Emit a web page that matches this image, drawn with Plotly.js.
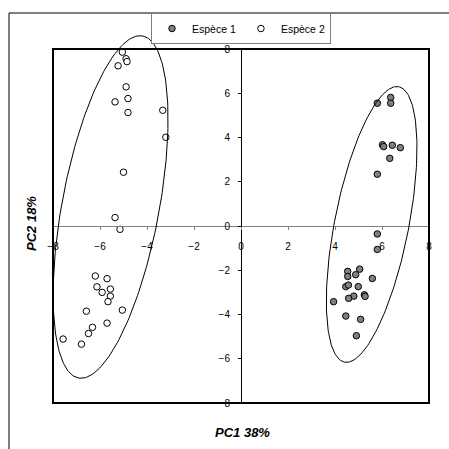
<!DOCTYPE html>
<html>
<head>
<meta charset="utf-8">
<script src="https://cdn.plot.ly/plotly-3.0.1.min.js"></script>
<style>html,body{margin:0;padding:0;background:#fff;}#chart{width:449px;height:449px;}</style>
</head>
<body>
<div id="chart"></div>
<script>
// ---- data ----
var sp1Name = "Espèce 1";
var sp1X = [5.80, 6.37, 6.37, 6.02, 6.07, 6.44, 6.78, 6.33, 5.80, 5.80, 5.80, 5.05, 4.54, 4.88, 4.54, 5.59, 4.46, 4.57, 4.99, 5.25, 5.28, 4.80, 4.58, 3.94, 4.46, 5.09, 4.91];
var sp1Y = [5.55, 5.81, 5.55, 3.67, 3.59, 3.65, 3.54, 3.06, 2.34, -0.36, -1.06, -1.95, -2.05, -2.20, -2.28, -2.37, -2.74, -2.67, -2.74, -3.11, -3.18, -3.17, -3.27, -3.42, -4.07, -4.22, -4.96];

var sp2Name = "Espèce 2";
var sp2X = [-5.05, -4.89, -4.85, -5.23, -4.89, -5.36, -4.81, -4.81, -3.33, -3.20, -5.00, -5.36, -5.15, -6.20, -5.70, -6.13, -5.56, -5.91, -5.56, -5.66, -6.58, -5.05, -5.70, -6.32, -6.49, -7.57, -6.79];
var sp2Y = [7.86, 7.56, 7.43, 7.24, 6.29, 5.61, 5.76, 5.13, 5.23, 4.01, 2.43, 0.38, -0.15, -2.26, -2.38, -2.75, -2.85, -3.00, -3.17, -3.42, -3.85, -3.80, -4.39, -4.58, -4.86, -5.11, -5.34];

// confidence ellipses: [species 1, species 2]
var ellCx = [5.56, -5.55];
var ellCy = [0.07, 0.86];
var ellA = [6.33, 7.85];      // semi-major axis
var ellB = [1.58, 2.07];      // semi-minor axis
var ellAngle = [79.6, 80.1];  // degrees

var axisRange = [-8, 8];
var tickValues = [-8, -6, -4, -2, 0, 2, 4, 6, 8];
var xTitle = "PC1 38%";
var yTitle = "PC2 18%";

// ---- layout geometry ----
var W = 449, H = 449;
var xd = [53 / W, 429 / W];
var yd = [1 - 403 / H, 1 - 49 / H];
var span = axisRange[1] - axisRange[0];
var ppuX = (xd[1] - xd[0]) * W / span;
var ppuY = (yd[1] - yd[0]) * H / span;
var x2Range = [axisRange[0] - xd[0] * W / ppuX, axisRange[1] + (1 - xd[1]) * W / ppuX];
var y2Range = [axisRange[0] - yd[0] * H / ppuY, axisRange[1] + (1 - yd[1]) * H / ppuY];

function ellipse(i) {
  var xs = [], ys = [], th = ellAngle[i] * Math.PI / 180, n = 240;
  for (var k = 0; k <= n; k++) {
    var t = 2 * Math.PI * k / n;
    xs.push(ellCx[i] + ellA[i] * Math.cos(th) * Math.cos(t) - ellB[i] * Math.sin(th) * Math.sin(t));
    ys.push(ellCy[i] + ellA[i] * Math.sin(th) * Math.cos(t) + ellB[i] * Math.cos(th) * Math.sin(t));
  }
  return {x: xs, y: ys};
}

var font = "Liberation Sans, Arial, sans-serif";
var traces = [];
[0, 1].forEach(function (i) {
  var e = ellipse(i);
  traces.push({x: e.x, y: e.y, xaxis: "x2", yaxis: "y2", mode: "lines", type: "scatter",
    line: {color: "#000", width: 1}, showlegend: false, hoverinfo: "skip"});
});
traces.push({x: sp1X, y: sp1Y, name: sp1Name, mode: "markers", type: "scatter", cliponaxis: false,
  marker: {symbol: "circle", size: 6.5, color: "#808080", line: {color: "#000", width: 1}}});
traces.push({x: sp2X, y: sp2Y, name: sp2Name, mode: "markers", type: "scatter", cliponaxis: false,
  marker: {symbol: "circle", size: 6.5, color: "#fff", line: {color: "#000", width: 1}}});

var layout = {
  width: W, height: H,
  margin: {l: 0, r: 0, t: 0, b: 0, pad: 0},
  paper_bgcolor: "#fff", plot_bgcolor: "rgba(0,0,0,0)",
  font: {family: font, size: 10, color: "#000"},
  showlegend: true,
  legend: {orientation: "h", x: 151 / W, xanchor: "left", y: 1 - 13 / H, yanchor: "top",
    bgcolor: "#fff", bordercolor: "#808080", borderwidth: 1, font: {family: font, size: 10.5, color: "#000"},
    itemwidth: 30, traceorder: "normal"},
  xaxis: {domain: xd, range: axisRange, anchor: "free", position: (yd[0] + yd[1]) / 2,
    showgrid: false, zeroline: false, showline: true, linecolor: "#808080", linewidth: 1,
    ticks: "outside", ticklen: 3, tickcolor: "#808080", tickvals: tickValues,
    ticklabelstandoff: 8, tickfont: {family: font, size: 10}},
  yaxis: {domain: yd, range: axisRange, anchor: "free", position: (xd[0] + xd[1]) / 2,
    showgrid: false, zeroline: false, showline: true, linecolor: "#000", linewidth: 1,
    ticks: "outside", ticklen: 3, tickcolor: "#000", tickvals: tickValues,
    ticklabelstandoff: 6, tickfont: {family: font, size: 10}},
  xaxis2: {domain: [0, 1], range: x2Range, anchor: "y2", visible: false, fixedrange: true},
  yaxis2: {domain: [0, 1], range: y2Range, anchor: "x2", visible: false, fixedrange: true},
  shapes: [
    {type: "rect", xref: "paper", yref: "paper", x0: 9 / W, x1: 1.2, y0: -0.2, y1: 1 - 13 / H,
      line: {color: "#000", width: 1}, layer: "below"},
    {type: "rect", xref: "paper", yref: "paper", x0: xd[0], x1: xd[1], y0: yd[0], y1: yd[1],
      line: {color: "#000", width: 2}, layer: "above"}
  ],
  annotations: [
    {text: xTitle, xref: "paper", yref: "paper", x: 242 / W, y: 1 - 432 / H, showarrow: false,
      xanchor: "center", yanchor: "middle", font: {family: font, size: 13, weight: "bold", style: "italic"}},
    {text: yTitle, xref: "paper", yref: "paper", x: 31 / W, y: 1 - 223 / H, showarrow: false, textangle: -90,
      xanchor: "center", yanchor: "middle", font: {family: font, size: 13, weight: "bold", style: "italic"}}
  ]
};

Plotly.newPlot("chart", traces, layout, {displayModeBar: false, staticPlot: true});
</script>
</body>
</html>
